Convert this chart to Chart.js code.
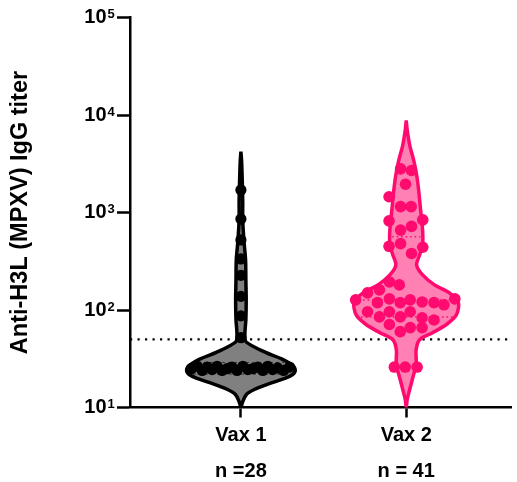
<!DOCTYPE html>
<html>
<head>
<meta charset="utf-8">
<script src="https://cdn.jsdelivr.net/npm/chart.js@4"></script>
<style>
  html, body { margin: 0; padding: 0; background: #fff; }
</style>
</head>
<body>
<canvas id="chart" width="517" height="482"></canvas>
<script>
// groups and axis
var groups = ["Vax 1", "Vax 2"];
var groupN = ["n =28", "n = 41"];
var yTicks = [10, 100, 1000, 10000, 100000];
var cutoff = 50;

// individual titers (jitter = horizontal spread, in group units)
var vax1Titers = [1700, 857, 523, 334, 227, 138, 87, 52,
  25, 26.5, 24, 26, 24.5, 26.5, 24, 25, 26, 24, 26.5, 24.5, 25, 26, 24, 26.5, 24.5, 25.5, 24, 26];
var vax1Jitter = [0, 0, 0, 0, 0, 0, 0, 0,
  -0.30, -0.264, -0.234, -0.204, -0.174, -0.144, -0.114, -0.084, -0.054, -0.024,
  0.012, 0.042, 0.072, 0.102, 0.132, 0.162, 0.192, 0.222, 0.258, 0.294];

var vax2Titers = [2800, 2700, 1950, 1450, 1150, 1150, 820, 840, 660, 720, 480, 450, 440, 380,
  127, 150, 161, 194, 181, 119, 96, 96, 119, 127, 121, 119, 113, 130,
  85, 71, 85, 96, 83, 79, 60, 66, 66, 26, 26, 26, 130];
var vax2Jitter = [-0.034, 0.032, -0.004, -0.104, -0.034, 0.030, -0.104, 0.100, -0.034, 0.032, -0.034, -0.104, 0.100, 0.032,
  -0.306, -0.234, -0.162, -0.102, -0.042, -0.174, -0.234, -0.102, -0.036, 0.024,
  0.096, 0.168, 0.228, 0.294, -0.162, -0.102, -0.036, 0.024, 0.096, 0.168,
  -0.036, 0.024, 0.096, -0.072, -0.006, 0.066, -0.102];

// violin outlines: titer level and half width (group units), top to bottom
var vax1ViolinLevels = [4200, 3400, 2150, 1300, 840, 520, 330, 200, 127, 80, 56, 47, 36.5, 31, 26.2, 23.3, 20.7, 18, 15.3, 13.6, 11.25, 10];
var vax1ViolinHalf   = [0, 0.004, 0.008, 0.011, 0.011, 0.018, 0.028, 0.030, 0.032, 0.030, 0.024, 0.032, 0.153, 0.255, 0.321, 0.327, 0.291, 0.189, 0.081, 0.033, 0.009, 0];

var vax2ViolinLevels = [8800, 7000, 4900, 3440, 2420, 1700, 1060, 662, 465, 367, 290, 229, 181, 150, 121, 89, 71, 58.5, 49.6, 39.2, 27.5, 20.3, 15.3, 12.1, 10];
var vax2ViolinHalf   = [0, 0.006, 0.021, 0.045, 0.063, 0.075, 0.087, 0.099, 0.099, 0.081, 0.063, 0.099, 0.171, 0.261, 0.315, 0.303, 0.243, 0.159, 0.081, 0.060, 0.060, 0.040, 0.021, 0.006, 0];

// quartile lines
var vax1Quartiles = [22, 25, 29];
var vax1QuartileHalf = [0.29, 0.325, 0.26];
var vax2Quartiles = [85, 127, 565];
var vax2QuartileHalf = [0.30, 0.315, 0.085];

var FONT = "'Liberation Sans', Arial, sans-serif";

function scatterPoints(center, titers, jitter) {
  return titers.map(function(v, i) { return {x: center + jitter[i], y: v}; });
}

function violinOutline(center, levels, half) {
  var pts = [];
  for (var i = 0; i < levels.length; i++) pts.push({x: center - half[i], y: levels[i]});
  for (var j = levels.length - 2; j >= 0; j--) pts.push({x: center + half[j], y: levels[j]});
  return pts;
}

function quartileSets(center, levels, half, color, width, dash) {
  return levels.map(function(v, i) {
    return {
      data: [{x: center - half[i], y: v}, {x: center + half[i], y: v}],
      showLine: true, pointRadius: 0, borderColor: color, borderWidth: width,
      borderDash: dash, fill: false, order: 1
    };
  });
}

var xMin = 0.329, xMax = 2.635;
var Y_TICK_LEN = 13, Y_LABEL_PAD = 10.5;

// draws the exponent of each 10^n label as a raised small number
var exponentPlugin = {
  id: "exponents",
  afterDraw: function(chart) {
    var s = chart.scales.y, ctx = chart.ctx;
    ctx.save();
    ctx.font = "bold 13px " + FONT;
    ctx.fillStyle = "#000";
    ctx.textAlign = "left";
    ctx.textBaseline = "alphabetic";
    yTicks.forEach(function(v) {
      var py = s.getPixelForValue(v);
      ctx.fillText(String(Math.round(Math.log10(v))), s.right - Y_TICK_LEN - Y_LABEL_PAD + 1, py + 0.5);
    });
    ctx.restore();
  }
};

var datasets = [
  {
    data: scatterPoints(1, vax1Titers, vax1Jitter),
    pointRadius: 5.6, pointBackgroundColor: "#000", pointBorderWidth: 0, order: 0
  },
  {
    data: scatterPoints(2, vax2Titers, vax2Jitter),
    pointRadius: 5.8, pointBackgroundColor: "#ff0a6e", pointBorderWidth: 0, order: 0
  },
  {
    data: violinOutline(1, vax1ViolinLevels, vax1ViolinHalf),
    showLine: true, pointRadius: 0, tension: 0.3,
    borderColor: "#000", borderWidth: 3.5, backgroundColor: "#808080", fill: "shape", order: 2
  },
  {
    data: violinOutline(2, vax2ViolinLevels, vax2ViolinHalf),
    showLine: true, pointRadius: 0, tension: 0.3,
    borderColor: "#ff0a6e", borderWidth: 3.5, backgroundColor: "#ff80b3", fill: "shape", order: 2
  },
  {
    data: [{x: xMin, y: cutoff}, {x: xMax, y: cutoff}],
    showLine: true, pointRadius: 0, borderColor: "#000", borderWidth: 2.2,
    borderDash: [2.2, 5.3], fill: false, order: 3
  }
].concat(
  quartileSets(1, vax1Quartiles, vax1QuartileHalf, "#333", 1, [3, 3]),
  quartileSets(2, vax2Quartiles, vax2QuartileHalf, "#ff0a6e", 1.5, [1.5, 3])
);

new Chart(document.getElementById("chart"), {
  type: "scatter",
  data: { datasets: datasets },
  options: {
    responsive: false,
    animation: false,
    layout: { padding: { top: 17.5, right: 2, left: 0, bottom: 0 } },
    plugins: { legend: { display: false }, tooltip: { enabled: false } },
    scales: {
      x: {
        type: "linear", min: xMin, max: xMax,
        afterBuildTicks: function(s) { s.ticks = [{value: 1}, {value: 2}]; },
        afterFit: function(s) { s.height = 74.5; },
        ticks: {
          callback: function(v) { var k = Math.round(v) - 1; return [groups[k], groupN[k]]; },
          font: { family: FONT, size: 20, weight: "bold", lineHeight: 1.8 },
          color: "#000", padding: 0, maxRotation: 0, autoSkip: false
        },
        grid: { drawOnChartArea: false, drawTicks: true, tickLength: 10, tickWidth: 2.5, tickColor: "#000" },
        border: { color: "#000", width: 2.5 }
      },
      y: {
        type: "logarithmic", min: 10, max: 100000,
        afterBuildTicks: function(s) { s.ticks = yTicks.map(function(v) { return {value: v}; }); },
        afterFit: function(s) { s.width = 130; s.paddingTop = 0; s.paddingBottom = 0; },
        ticks: {
          callback: function() { return "10"; },
          font: { family: FONT, size: 20, weight: "bold" },
          color: "#000", padding: Y_LABEL_PAD
        },
        grid: { drawOnChartArea: false, drawTicks: true, tickLength: Y_TICK_LEN, tickWidth: 2.5, tickColor: "#000" },
        border: { color: "#000", width: 2.5 },
        title: {
          display: true, text: "Anti-H3L (MPXV) IgG titer", color: "#000",
          font: { family: FONT, size: 23.5, weight: "bold" },
          padding: { top: 6, bottom: 0 }
        }
      }
    }
  },
  plugins: [exponentPlugin]
});
</script>
</body>
</html>
